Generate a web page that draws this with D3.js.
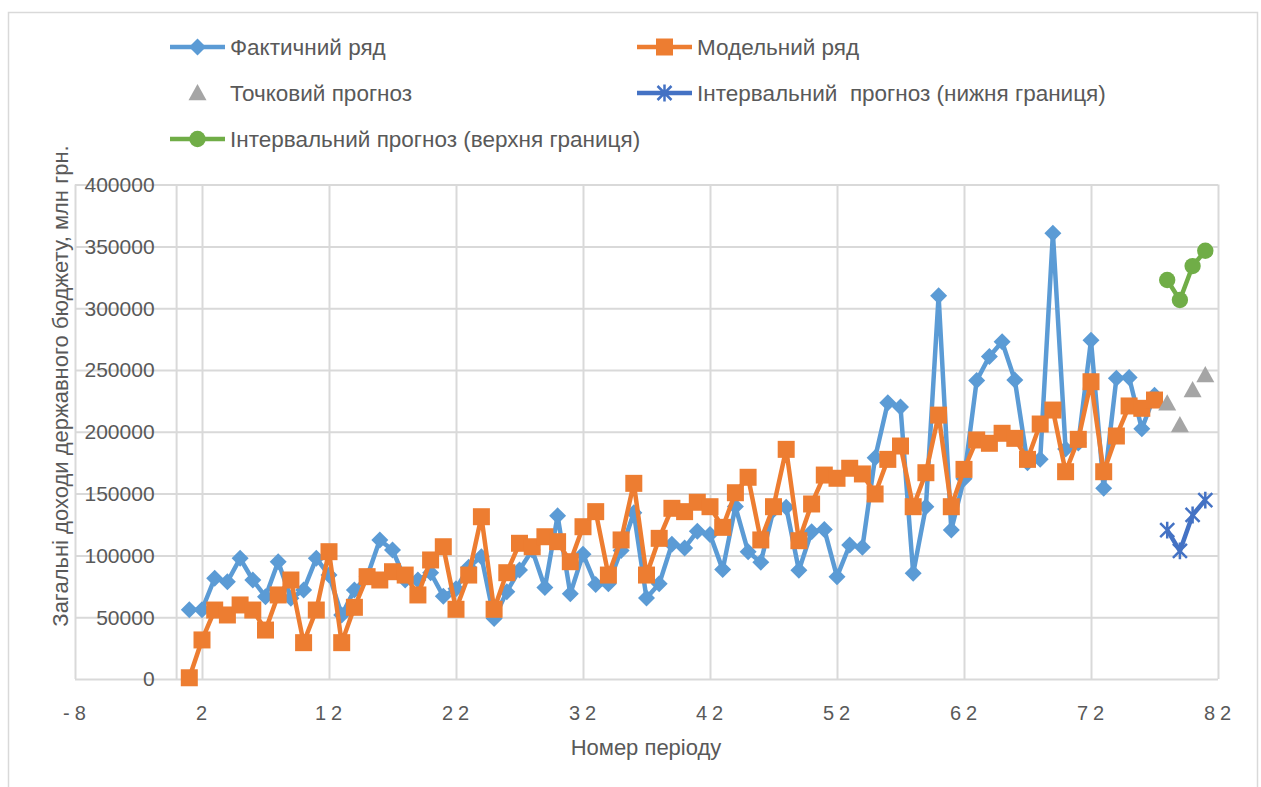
<!DOCTYPE html>
<html>
<head>
<meta charset="utf-8">
<script src="https://cdn.jsdelivr.net/npm/d3@7"></script>
<style>
  body { margin: 0; background: #fff; }
  text { font-family: "Liberation Sans", Arial, sans-serif; fill: #595959; }
</style>
</head>
<body>
<svg width="1261" height="787"></svg>
<script>
// фактичні та модельні значення, періоди 1..77
var actual = [56000, 56000, 81500, 78700, 97600, 80100, 66600, 94900, 65300, 72000,
  97600, 84100, 51800, 72000, 82800, 112500, 104400, 80100, 80000, 86000,
  67000, 73000, 90500, 99000, 49000, 70600, 88200, 104400, 74000, 132000,
  69000, 101000, 76500, 77000, 104000, 134500, 65500, 77000, 109000, 106000,
  119500, 117000, 88500, 139500, 103000, 94500, 137000, 139000, 88000, 119200,
  121000, 82800, 108400, 106500, 179000, 223500, 220000, 85500, 139400, 310000,
  120500, 162000, 241500, 261000, 272800, 241900, 175000, 177700, 360600, 186000,
  191000, 274000, 154300, 243300, 244000, 202500, 229500];

var model = [1000, 31600, 55800, 51800, 59900, 55800, 39600, 68000, 80100, 29400,
  55800, 103000, 29400, 58000, 82800, 80100, 86800, 84100, 68000, 96300,
  107000, 56400, 84100, 131300, 56400, 86000, 109800, 107000, 115100, 111100,
  94900, 123200, 135400, 84100, 112500, 158300, 84100, 113800, 138100, 135400,
  143000, 139400, 122700, 150700, 163200, 112500, 139400, 185800, 111900, 141600,
  165000, 162400, 170500, 165900, 149700, 177700, 188500, 139400, 166900, 213500,
  139400, 169600, 193400, 190700, 198800, 194700, 177700, 206300, 217600, 167700,
  193900, 240500, 167700, 196600, 220900, 219000, 225700];

// прогноз, періоди 78..81
var forecastPeriods = [78, 79, 80, 81];
var pointForecast = [223000, 205500, 233800, 245900];
var lowerBound = [120500, 103600, 132700, 144800];
var upperBound = [322800, 306600, 334100, 346500];

var xTicks = [-8, 2, 12, 22, 32, 42, 52, 62, 72, 82];
var yTicks = [0, 50000, 100000, 150000, 200000, 250000, 300000, 350000, 400000];

var legendItems = [
  {name: "Фактичний ряд", key: "actual", col: 0, row: 0},
  {name: "Модельний ряд", key: "model", col: 1, row: 0},
  {name: "Точковий прогноз", key: "point", col: 0, row: 1},
  {name: "Інтервальний  прогноз (нижня границя)", key: "lower", col: 1, row: 1},
  {name: "Інтервальний прогноз (верхня границя)", key: "upper", col: 0, row: 2}
];

var colors = {actual: "#5B9BD5", model: "#ED7D31", point: "#A5A5A5", lower: "#4472C4", upper: "#70AD47"};

var svg = d3.select("svg");

// рамка області діаграми
svg.append("rect")
    .attr("x", 8.5).attr("y", 12.5)
    .attr("width", 1249).attr("height", 790)
    .attr("fill", "none")
    .attr("stroke", "#D9D9D9")
    .attr("stroke-width", 1.5);

var x = d3.scaleLinear().domain([-8, 82]).range([75, 1218]),
    y = d3.scaleLinear().domain([0, 400000]).range([679, 184.6]);

var series = function(values, start) {
  return values.map(function(v, i) { return {p: start ? start[i] : i + 1, v: v}; });
};

var actualData = series(actual),
    modelData = series(model),
    pointData = series(pointForecast, forecastPeriods),
    lowerData = series(lowerBound, forecastPeriods),
    upperData = series(upperBound, forecastPeriods);

// сітка
svg.append("g")
    .attr("transform", "translate(0," + y(0) + ")")
    .call(d3.axisBottom(x).tickValues(xTicks).tickSize(-(y(0) - y(400000))).tickFormat(""))
    .call(function(g) { g.select(".domain").remove(); })
    .selectAll("line").attr("stroke", "#D9D9D9").attr("stroke-width", 2);

svg.append("g")
    .attr("transform", "translate(" + x(-8) + ",0)")
    .call(d3.axisLeft(y).tickValues(yTicks).tickSize(-(x(82) - x(-8))).tickFormat(""))
    .call(function(g) { g.select(".domain").remove(); })
    .selectAll("line").attr("stroke", "#D9D9D9").attr("stroke-width", 2);

// вертикальна вісь при x = 0
svg.append("line")
    .attr("x1", x(0)).attr("x2", x(0))
    .attr("y1", y(400000)).attr("y2", y(0))
    .attr("stroke", "#D9D9D9").attr("stroke-width", 2);

// підписи осі Y
svg.append("g").selectAll("text")
    .data(yTicks)
    .enter().append("text")
      .attr("x", x(0) - 22)
      .attr("y", function(d) { return y(d); })
      .attr("dy", "0.35em")
      .attr("text-anchor", "end")
      .style("font-size", "21px")
      .text(function(d) { return d; });

// підписи осі X
svg.append("g").selectAll("text")
    .data(xTicks)
    .enter().append("text")
      .attr("x", function(d) { return x(d) + 2; })
      .attr("y", 720)
      .attr("text-anchor", "middle")
      .style("font-size", "20px")
      .style("letter-spacing", "5px")
      .text(function(d) { return d; });

svg.append("text")
    .attr("x", 646)
    .attr("y", 755)
    .attr("text-anchor", "middle")
    .style("font-size", "22px")
    .text("Номер періоду");

svg.append("text")
    .attr("transform", "translate(68,386) rotate(-90)")
    .attr("text-anchor", "middle")
    .style("font-size", "22px")
    .text("Загальні доходи державного бюджету, млн грн.");

// маркери
var square = function(s) { return "M" + (-s) + "," + (-s) + "H" + s + "V" + s + "H" + (-s) + "Z"; };
var diamond = function(s) { return "M0," + (-s) + "L" + s + ",0L0," + s + "L" + (-s) + ",0Z"; };
var triangle = function(s) { return "M0," + (-s) + "L" + s + "," + (s * 0.8) + "L" + (-s) + "," + (s * 0.8) + "Z"; };
var star = function(s) { return "M" + (-s) + "," + (-s) + "L" + s + "," + s + "M" + (-s) + "," + s + "L" + s + "," + (-s) + "M0," + (-s * 1.2) + "L0," + (s * 1.2); };

var markers = {
  actual: function(sel) { sel.attr("d", diamond(8.5)).attr("fill", colors.actual); },
  model: function(sel) { sel.attr("d", square(8.5)).attr("fill", colors.model); },
  point: function(sel) { sel.attr("d", triangle(9)).attr("fill", colors.point); },
  lower: function(sel) { sel.attr("d", star(7)).attr("fill", "none").attr("stroke", colors.lower).attr("stroke-width", 2.5); },
  upper: function(sel) { sel.attr("d", d3.symbol(d3.symbolCircle, 210)()).attr("fill", colors.upper); }
};

var line = d3.line()
    .x(function(d) { return x(d.p); })
    .y(function(d) { return y(d.v); });

function drawSeries(data, key, withLine) {
  var g = svg.append("g").attr("class", "series-" + key);
  if (withLine) {
    g.append("path")
        .datum(data)
        .attr("d", line)
        .attr("fill", "none")
        .attr("stroke", colors[key])
        .attr("stroke-width", 4.5)
        .attr("stroke-linejoin", "round");
  }
  g.selectAll(".m")
    .data(data)
    .enter().append("path")
      .attr("class", "m")
      .attr("transform", function(d) { return "translate(" + x(d.p) + "," + y(d.v) + ")"; })
      .call(markers[key]);
}

drawSeries(actualData, "actual", true);
drawSeries(modelData, "model", true);
drawSeries(pointData, "point", false);
drawSeries(lowerData, "lower", true);
drawSeries(upperData, "upper", true);

// легенда
var legend = svg.append("g").selectAll("g")
    .data(legendItems)
    .enter().append("g")
      .attr("transform", function(d) { return "translate(" + (d.col ? 637 : 170) + "," + (47 + d.row * 46) + ")"; });

legend.filter(function(d) { return d.key !== "point"; })
  .append("line")
    .attr("x1", 0).attr("x2", 55)
    .attr("stroke", function(d) { return colors[d.key]; })
    .attr("stroke-width", 4.5);

legend.append("path")
    .attr("transform", "translate(27.5,0)")
    .each(function(d) { d3.select(this).call(markers[d.key]); });

legend.append("text")
    .attr("x", 60)
    .attr("dy", "0.35em")
    .style("font-size", "22.5px")
    .style("white-space", "pre")
    .text(function(d) { return d.name; });
</script>
</body>
</html>
